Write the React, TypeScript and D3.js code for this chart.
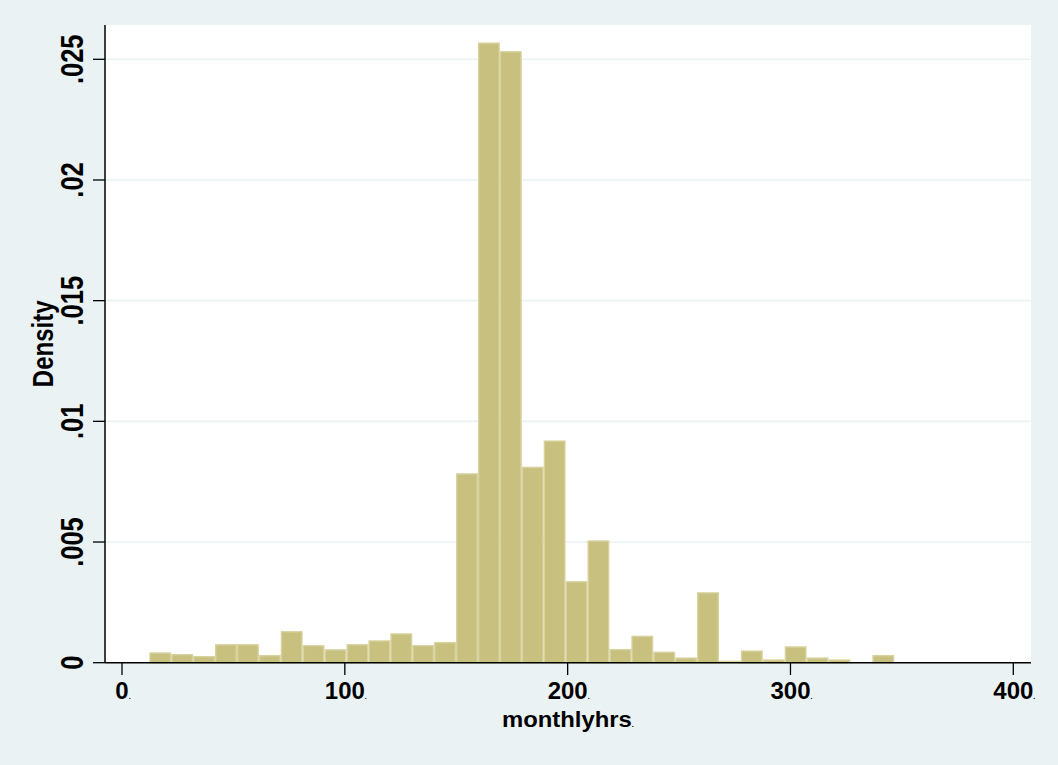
import * as d3 from "d3";

// histogram of monthlyhrs (density per bin)
const BIN_START = 12.25;
const BIN_WIDTH = 9.833;
const densities = [
  0.00043, 0.00036, 0.00028, 0.00077, 0.00077, 0.00032, 0.00131, 0.00073,
  0.00056, 0.00077, 0.00093, 0.00122, 0.00073, 0.00086, 0.00785, 0.0257,
  0.02534, 0.00812, 0.00921, 0.00338, 0.00507, 0.00057, 0.00112, 0.00046,
  0.00022, 0.00292, 0.00008, 0.00051, 0.00014, 0.00068, 0.00022, 0.00014,
  0, 0.00032,
];

const xTicks = [0, 100, 200, 300, 400];
const yTicks = [0, 0.005, 0.01, 0.015, 0.02, 0.025];
const yTickLabels = ["0", ".005", ".01", ".015", ".02", ".025"];

const WIDTH = 1058;
const HEIGHT = 765;
const PLOT = { left: 105, right: 1031, top: 25, bottom: 662.7 };
const BG = "#EAF2F3";
const FONT = "'Liberation Sans', Arial, Helvetica, sans-serif";

export default function App() {
  const xScale = d3.scaleLinear().domain([0, 400]).range([122, 1013.3]);
  const yScale = d3.scaleLinear().domain([0, 0.025]).range([PLOT.bottom, 59.3]);

  const bars = densities.map((d, i) => {
    const x0 = BIN_START + i * BIN_WIDTH;
    return { x0, x1: x0 + BIN_WIDTH, d };
  });

  const midY = (PLOT.top + PLOT.bottom) / 2;
  const midX = (PLOT.left + PLOT.right) / 2;

  return (
    <svg
      width={WIDTH}
      height={HEIGHT}
      style={{ position: "absolute", left: 0, top: 0 }}
      fontFamily={FONT}
      fontWeight="bold"
    >
      <rect width={WIDTH} height={HEIGHT} fill={BG} />
      {/* plot region */}
      <rect
        x={PLOT.left}
        y={PLOT.top}
        width={PLOT.right - PLOT.left}
        height={PLOT.bottom - PLOT.top}
        fill="#ffffff"
      />
      {/* grid */}
      {yTicks.slice(1).map((t) => (
        <line
          key={t}
          x1={PLOT.left}
          x2={PLOT.right}
          y1={yScale(t)}
          y2={yScale(t)}
          stroke={BG}
          strokeWidth={1.6}
        />
      ))}
      {/* bars */}
      {bars
        .filter((b) => b.d > 0)
        .map((b, i) => (
          <rect
            key={i}
            x={xScale(b.x0) + 0.7}
            y={yScale(b.d) + 0.7}
            width={xScale(b.x1) - xScale(b.x0) - 1.4}
            height={Math.max(0, yScale(0) - yScale(b.d) - 0.7)}
            fill="#C8C07E"
            stroke="#D8D29E"
            strokeWidth={1.4}
          />
        ))}
      {/* y axis */}
      <line x1={PLOT.left} x2={PLOT.left} y1={PLOT.top} y2={PLOT.bottom} stroke="#000" strokeWidth={1.5} />
      {yTicks.map((t, i) => (
        <g key={t}>
          <line x1={93} x2={PLOT.left} y1={yScale(t)} y2={yScale(t)} stroke="#000" strokeWidth={1.3} />
          <text
            transform={`translate(82.5,${yScale(t)}) rotate(-90) scale(1,1.2)`}
            textAnchor="middle"
            fontSize={25.5}
            fill="#000"
          >
            {yTickLabels[i]}
          </text>
        </g>
      ))}
      <text
        transform={`translate(52.5,${midY}) rotate(-90) scale(1,1.22)`}
        textAnchor="middle"
        fontSize={24}
        fill="#000"
      >
        Density
      </text>
      {/* x axis */}
      <line x1={PLOT.left} x2={PLOT.right} y1={PLOT.bottom} y2={PLOT.bottom} stroke="#000" strokeWidth={1.5} />
      {xTicks.map((t) => (
        <g key={t}>
          <line x1={xScale(t)} x2={xScale(t)} y1={PLOT.bottom} y2={675} stroke="#000" strokeWidth={1.3} />
          <text x={xScale(t) + 1} y={698.5} textAnchor="middle" fontSize={24} fill="#000">
            {t}
            <tspan fontSize={7}>.</tspan>
          </text>
        </g>
      ))}
      <text
        transform={`translate(${midX},726.7) scale(1.11,1)`}
        textAnchor="middle"
        fontSize={21.5}
        fill="#000"
      >
        monthlyhrs
        <tspan fontSize={7}>.</tspan>
      </text>
    </svg>
  );
}
